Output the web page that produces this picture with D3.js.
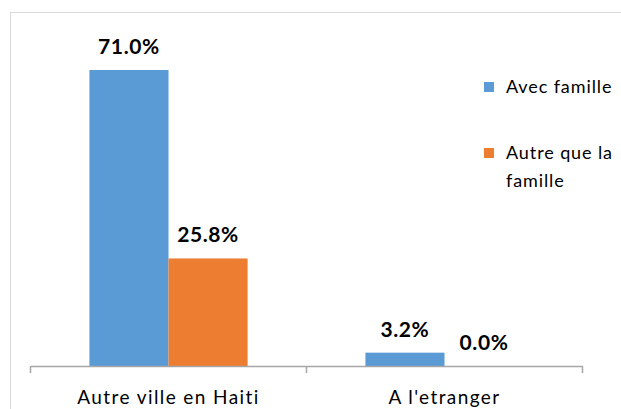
<!DOCTYPE html>
<html>
<head>
<meta charset="utf-8">
<script src="https://cdn.jsdelivr.net/npm/d3@7"></script>
<style>
  body { margin: 0; background: #fff; }
  svg { display: block; font-family: Lato, "Open Sans", sans-serif; }
</style>
</head>
<body>
<div id="vis"></div>
<script>
const WIDTH = 621;
const HEIGHT = 409;

const categories = ["Autre ville en Haiti", "A l'etranger"];
const seriesNames = ["Avec famille", "Autre que la famille"];
const avecFamille = [71.0, 3.2];
const autreFamille = [25.8, 0.0];
const colors = ["#5b9bd5", "#ed7d31"];

const values = [avecFamille, autreFamille];

const svg = d3.select("#vis")
  .append("svg")
    .attr("width", WIDTH)
    .attr("height", HEIGHT);

// chart frame (cut off on right and bottom)
svg.append("rect")
  .attr("x", 10.5)
  .attr("y", 12.5)
  .attr("width", 700)
  .attr("height", 500)
  .attr("fill", "#fff")
  .attr("stroke", "#d9d9d9");

const x = d3.scaleBand()
  .domain(categories)
  .range([30.5, 582.5])
  .padding(0);

const xSub = d3.scaleBand()
  .domain(d3.range(seriesNames.length))
  .range([0, x.bandwidth()])
  .paddingInner(0)
  .paddingOuter(0.745);

const y = d3.scaleLinear()
  .domain([0, 80])
  .range([366, 366 - 296 * 80 / 71]);

// bars + value labels
seriesNames.forEach((s, i) => {
  svg.append("g")
    .selectAll("rect")
    .data(categories)
    .join("rect")
      .attr("x", d => x(d) + xSub(i))
      .attr("y", (d, j) => y(values[i][j]))
      .attr("width", xSub.bandwidth())
      .attr("height", (d, j) => y(0) - y(values[i][j]))
      .attr("fill", colors[i]);

  svg.append("g")
    .selectAll("text")
    .data(categories)
    .join("text")
      .attr("x", d => x(d) + xSub(i) + xSub.bandwidth() / 2)
      .attr("y", (d, j) => y(values[i][j]) - 16)
      .attr("text-anchor", "middle")
      .attr("font-size", 21)
      .attr("font-weight", "bold")
      .attr("letter-spacing", 0.6)
      .attr("fill", "#000")
      .text((d, j) => values[i][j].toFixed(1) + "%");
});

// x axis
const axis = svg.append("g")
  .attr("transform", `translate(0,${y(0)})`)
  .call(d3.axisBottom(x).tickSize(0).tickPadding(0));
axis.select(".domain").attr("stroke", "#a6a6a6").attr("stroke-width", 1.5);
axis.selectAll(".tick text")
  .attr("dy", null)
  .attr("y", 38)
  .attr("font-size", 19)
  .attr("letter-spacing", 1.4)
  .attr("font-family", "Lato, sans-serif")
  .attr("fill", "#000");

// tick marks at band edges
const edges = categories.map(c => x(c)).concat([x.range()[1]]);
axis.selectAll(".edge")
  .data(edges)
  .join("line")
    .attr("class", "edge")
    .attr("x1", d => d).attr("x2", d => d)
    .attr("y1", 0).attr("y2", 7)
    .attr("stroke", "#a6a6a6")
    .attr("stroke-width", 1.5);

// legend
const legendRows = [
  { lines: ["Avec famille"], y: 87 },
  { lines: ["Autre que la", "famille"], y: 153 }
];
const legend = svg.append("g");
legendRows.forEach((r, i) => {
  legend.append("rect")
    .attr("x", 484)
    .attr("y", r.y - 5)
    .attr("width", 10)
    .attr("height", 10)
    .attr("fill", colors[i]);
  r.lines.forEach((t, k) => {
    legend.append("text")
      .attr("x", 506)
      .attr("y", r.y + 6 + k * 28)
      .attr("font-size", 18)
      .attr("letter-spacing", 0.9)
      .attr("fill", "#000")
      .text(t);
  });
});
</script>
</body>
</html>
